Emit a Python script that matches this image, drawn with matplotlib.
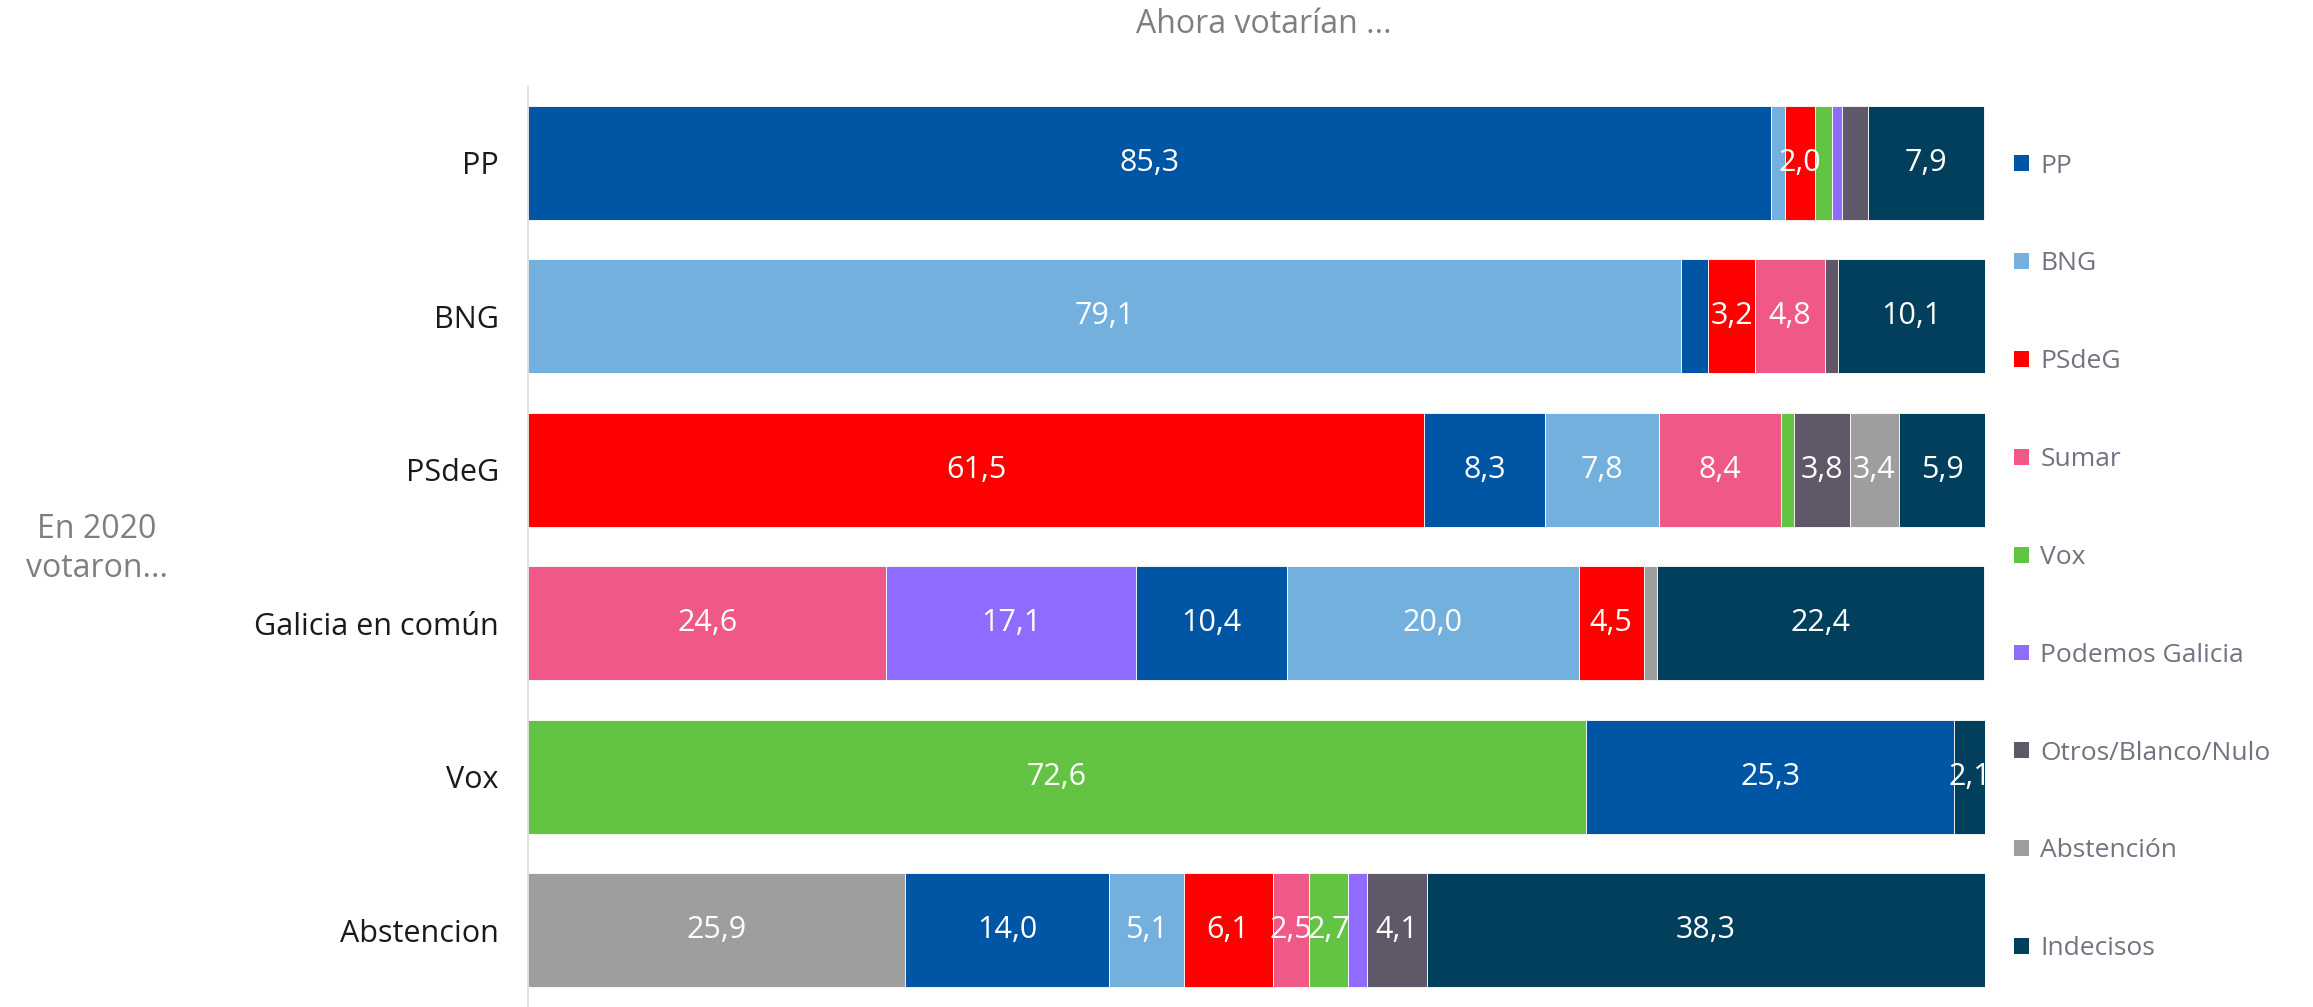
import matplotlib.pyplot as plt
from matplotlib.patches import Patch

plt.rcParams['font.family'] = ['Open Sans', 'DejaVu Sans']

# vote in 2020 (rows) -> vote intention now (segments, left to right)
rows = ["PP", "BNG", "PSdeG", "Galicia en común", "Vox", "Abstencion"]

seg_parties = [
    ["PP", "BNG", "PSdeG", "Vox", "Podemos Galicia", "Otros/Blanco/Nulo", "Indecisos"],
    ["BNG", "PP", "PSdeG", "Sumar", "Otros/Blanco/Nulo", "Indecisos"],
    ["PSdeG", "PP", "BNG", "Sumar", "Vox", "Otros/Blanco/Nulo", "Abstención", "Indecisos"],
    ["Sumar", "Podemos Galicia", "PP", "BNG", "PSdeG", "Abstención", "Indecisos"],
    ["Vox", "PP", "Indecisos"],
    ["Abstención", "PP", "BNG", "PSdeG", "Sumar", "Vox", "Podemos Galicia",
     "Otros/Blanco/Nulo", "Indecisos"],
]
seg_values = [
    [85.3, 1.0, 2.0, 1.2, 0.7, 1.8, 7.9],
    [79.1, 1.9, 3.2, 4.8, 0.9, 10.1],
    [61.5, 8.3, 7.8, 8.4, 0.9, 3.8, 3.4, 5.9],
    [24.6, 17.1, 10.4, 20.0, 4.5, 0.9, 22.4],
    [72.6, 25.3, 2.1],
    [25.9, 14.0, 5.1, 6.1, 2.5, 2.7, 1.3, 4.1, 38.3],
]

legend_order = ["PP", "BNG", "PSdeG", "Sumar", "Vox", "Podemos Galicia",
                "Otros/Blanco/Nulo", "Abstención", "Indecisos"]
colors = {
    "PP": "#0056a4",
    "BNG": "#74b0dd",
    "PSdeG": "#ff0000",
    "Sumar": "#f05887",
    "Vox": "#63c342",
    "Podemos Galicia": "#8f6cff",
    "Otros/Blanco/Nulo": "#5e5868",
    "Abstención": "#9d9e9d",
    "Indecisos": "#023f5c",
}

fig = plt.figure(figsize=(23.13, 10.07), dpi=100)
ax = fig.add_axes([0.2283, 0.0, 0.8582 - 0.2283, 0.9146])

for i, (parties, vals) in enumerate(zip(seg_parties, seg_values)):
    left = 0
    for p, v in zip(parties, vals):
        ax.barh(i, v, left=left, height=0.74, color=colors[p],
                edgecolor="white", linewidth=0.6)
        if v >= 2.0:
            ax.text(left + v / 2, i, f"{v:.1f}".replace(".", ","),
                    ha="center", va="center", color="white", fontsize=22)
        left += v

ax.set_xlim(0, 100)
ax.set_ylim(5.5, -0.5)
ax.set_yticks(range(len(rows)))
ax.set_yticklabels(rows, fontsize=22, color="#1a1a1a")
ax.tick_params(axis="y", length=0, pad=21)
ax.set_xticks([])
for s in ["top", "right", "bottom"]:
    ax.spines[s].set_visible(False)
ax.spines["left"].set_color("#d9d9d9")
ax.spines["left"].set_linewidth(1.2)

fig.text(0.5465, 0.976, "Ahora votarían ...", ha="center", va="center",
         fontsize=23, color="#7f7f7f")
fig.text(0.042, 0.455, "En 2020\nvotaron...", ha="center", va="center",
         fontsize=23, color="#7f7f7f", linespacing=1.25)

handles = [Patch(facecolor=colors[p], edgecolor="none", label=p) for p in legend_order]
leg = fig.legend(handles=handles, loc="upper left", bbox_to_anchor=(0.8605, 0.871),
                 frameon=False, fontsize=19, labelspacing=2.76,
                 handlelength=0.55, handleheight=0.55, handletextpad=0.45)
for t in leg.get_texts():
    t.set_color("#767080")

fig.savefig("out.png", dpi=100)
